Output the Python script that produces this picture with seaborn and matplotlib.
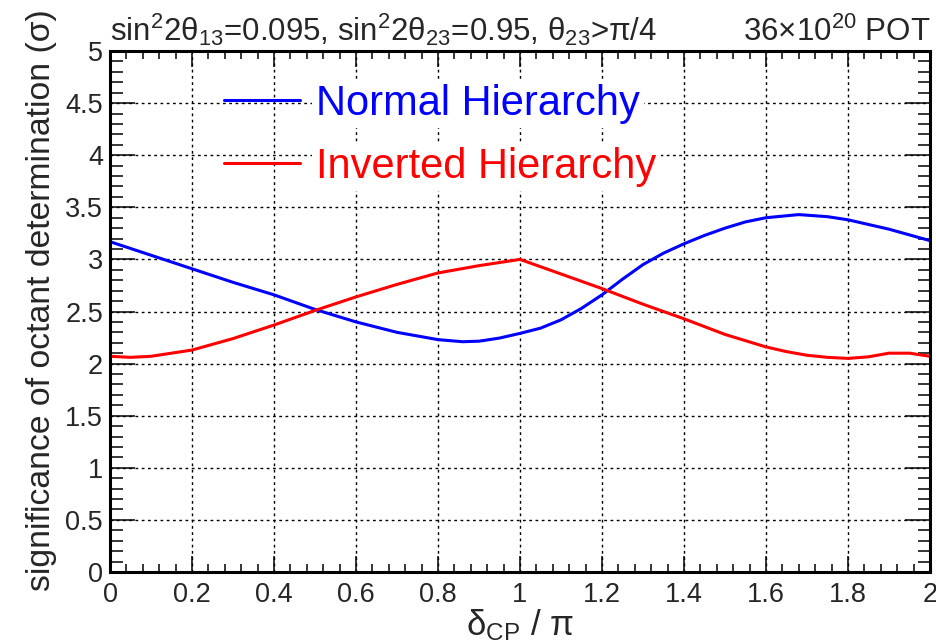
import seaborn as sns
import matplotlib.pyplot as plt
from matplotlib.ticker import MultipleLocator, FixedLocator, FixedFormatter

# valores
delta_nh = [0.0, 0.1, 0.2, 0.3, 0.4, 0.5, 0.6, 0.7, 0.8, 0.86, 0.9, 0.95, 1.0,
            1.05, 1.1, 1.15, 1.2, 1.25, 1.3, 1.35, 1.4, 1.45, 1.5, 1.55, 1.6,
            1.68, 1.75, 1.8, 1.9, 2.0]
sig_nh = [3.17, 3.04, 2.91, 2.78, 2.66, 2.52, 2.40, 2.30, 2.23, 2.21, 2.215, 2.245, 2.29,
          2.34, 2.42, 2.53, 2.66, 2.81, 2.95, 3.06, 3.15, 3.23, 3.30, 3.36, 3.40,
          3.43, 3.41, 3.38, 3.29, 3.18]

delta_ih = [0.0, 0.05, 0.1, 0.2, 0.3, 0.4, 0.5, 0.6, 0.7, 0.8, 0.9, 1.0,
            1.1, 1.2, 1.3, 1.4, 1.5, 1.6, 1.65, 1.7, 1.75, 1.8, 1.85, 1.9, 1.95, 2.0]
sig_ih = [2.07, 2.06, 2.07, 2.13, 2.24, 2.37, 2.51, 2.64, 2.76, 2.87, 2.94, 3.00,
          2.86, 2.72, 2.57, 2.43, 2.28, 2.16, 2.115, 2.08, 2.06, 2.05, 2.065, 2.10, 2.10, 2.07]

x_ticks = [0, 0.2, 0.4, 0.6, 0.8, 1, 1.2, 1.4, 1.6, 1.8, 2]
x_tick_labels = ['0', '0.2', '0.4', '0.6', '0.8', '1', '1.2', '1.4', '1.6', '1.8', '2']
y_ticks = [0, 0.5, 1, 1.5, 2, 2.5, 3, 3.5, 4, 4.5, 5]
y_tick_labels = ['0', '0.5', '1', '1.5', '2', '2.5', '3', '3.5', '4', '4.5', '5']

sns.set_style('ticks')
plt.rcParams['font.family'] = ['Liberation Sans', 'DejaVu Sans']
plt.rcParams['mathtext.fontset'] = 'custom'
plt.rcParams['mathtext.rm'] = 'Liberation Sans'
plt.rcParams['mathtext.it'] = 'Liberation Sans:italic'
plt.rcParams['mathtext.bf'] = 'Liberation Sans:bold'

fig = plt.figure(figsize=(9.36, 6.42), dpi=100)
ax = fig.add_axes([110 / 936, 1 - 572 / 642, 820 / 936, 521 / 642])

sns.lineplot(x=delta_nh, y=sig_nh, color='#0000ff', lw=2.2,
             label='Normal Hierarchy', ax=ax)
sns.lineplot(x=delta_ih, y=sig_ih, color='#ff0000', lw=2.2,
             label='Inverted Hierarchy', ax=ax)

ax.set_xlim(0, 2)
ax.set_ylim(0, 5)
ax.xaxis.set_major_locator(FixedLocator(x_ticks))
ax.xaxis.set_major_formatter(FixedFormatter(x_tick_labels))
ax.xaxis.set_minor_locator(MultipleLocator(0.04))
ax.yaxis.set_major_locator(FixedLocator(y_ticks))
ax.yaxis.set_major_formatter(FixedFormatter(y_tick_labels))
ax.yaxis.set_minor_locator(MultipleLocator(0.1))

ax.tick_params(axis='both', which='both', direction='in', top=True, right=True,
               width=1.1, color='black', labelsize=19.5)
ax.tick_params(axis='x', which='major', length=11.5, pad=7)
ax.tick_params(axis='x', which='minor', length=5.8)
ax.tick_params(axis='y', which='major', length=18, pad=5)
ax.tick_params(axis='y', which='minor', length=9)

ax.grid(True, which='major', color='black', linestyle=(0, (2, 2.5)), linewidth=1.0)
for s in ax.spines.values():
    s.set_linewidth(2.2)
    s.set_color('black')
    s.set_visible(True)

ax.set_xlabel('δ$_{\\mathrm{CP}}$ / π', fontsize=25, labelpad=0)
ax.set_ylabel('significance of octant determination (σ)', fontsize=24.3, labelpad=6)
ax.yaxis.label.set_y(0.522)

ax.text(0.0, 1.02, 'sin$^{2}$2θ$_{13}$=0.095, sin$^{2}$2θ$_{23}$=0.95, θ$_{23}$>π/4',
        transform=ax.transAxes, fontsize=22.5, ha='left', va='baseline')
ax.text(1.0, 1.02, '36×10$^{20}$ POT', transform=ax.transAxes,
        fontsize=22.5, ha='right', va='baseline')

leg = ax.legend(loc='upper left', bbox_to_anchor=((224 - 110) / 820, (572 - 84) / 521),
                frameon=False, fontsize=30, handlelength=1.83, handletextpad=0.38,
                labelspacing=0.55, borderpad=0, borderaxespad=0, labelcolor='linecolor')
# fondo blanco detras del texto de la leyenda (como en ROOT)
for t in leg.get_texts():
    t.set_bbox(dict(facecolor='white', edgecolor='none', pad=3))

plt.savefig('out.png', dpi=100)
